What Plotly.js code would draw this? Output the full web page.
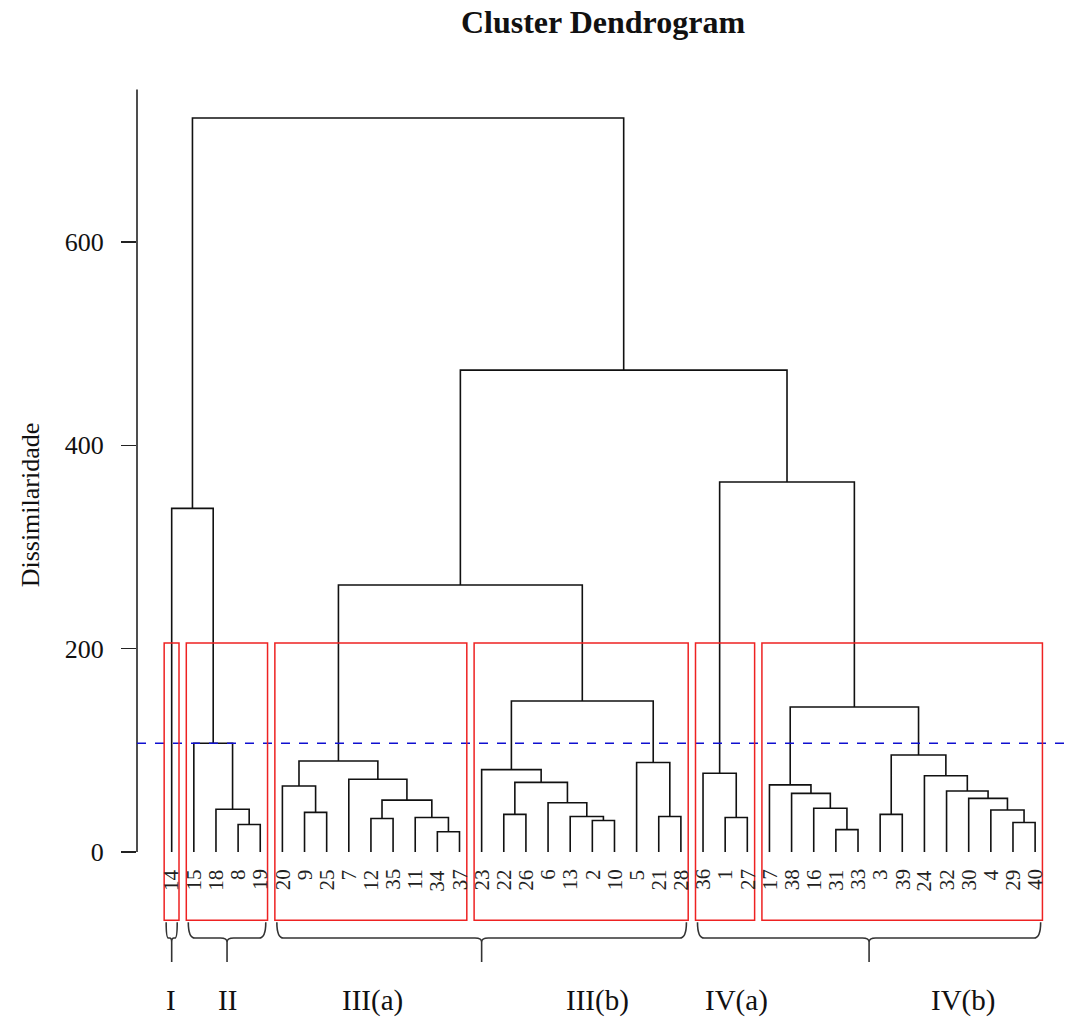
<!DOCTYPE html>
<html>
<head>
<meta charset="utf-8">
<script src="https://cdn.plot.ly/plotly-3.0.1.min.js"></script>
<style>html,body{margin:0;padding:0;background:#fff;}#chart{width:1067px;height:1021px;}</style>
</head>
<body>
<div id="chart"></div>
<script>
// Leaf order as drawn (left to right)
const leafOrder = [14,15,18,8,19,20,9,25,7,12,35,11,34,37,23,22,26,6,13,2,10,5,21,28,36,1,27,17,38,16,31,33,3,39,24,32,30,4,29,40];

// Merge table (R hclust style: negative = leaf label, positive = earlier merge step)
const mergeA = [-8,-18,-15,-14,-9,-20,-34,-11,-12, 9,-7, 6,-22,-2,-13,-6,13,-23,-21,-5,18,12,-1,-36,-31,-16,-38,-17,-3,-29,-4,-30,-32,-24,29,28,24,22, 4];
const mergeB = [-19, 1, 2, 3,-25, 5,-37, 7,-35, 8,10,11,-26,-10,14,15,16,17,-28,19,20,21,-27,23,-33,25,26,27,-39,-40,30,31,32,33,34,35,36,37,38];
const mergeH = [27,42,107,338,39,65,20,34,33,51,71.5,89.5,37,31,35,48.5,68.5,81,35,88,148.5,262.6,34,77.5,22,43,57.7,66,37,29,41.3,52.8,60,75,95.4,142.6,364,474,722];

// Cut line height
const cutHeight = 107;
// Number of clusters boxed
const kClusters = 6;

// Boxed clusters (leaf index ranges in drawing order)
const boxFirst = [1, 2, 6, 15, 25, 28];
const boxLast  = [1, 5, 14, 24, 27, 40];

// Braces (leaf index ranges)
const braceFirst = [1, 2, 6, 25];
const braceLast  = [1, 5, 24, 40];

// Group labels
const groupNames = ['I','II','III(a)','III(b)','IV(a)','IV(b)'];
const groupLabelPos = [0.97, 3.5, 10.09, 20.25, 26.53, 36.72];

const yTicks = [0, 200, 400, 600];

// ---------- build geometry through axes ----------
const pos = {};
leafOrder.forEach((l, i) => pos[l] = i + 1);
const nodeX = [], nodeH = [];
function cx(c){ return c < 0 ? pos[-c] : nodeX[c-1]; }
function ch(c){ return c < 0 ? 0 : nodeH[c-1]; }
const lx = [], ly = [];
for (let j = 0; j < mergeH.length; j++) {
  const a = mergeA[j], b = mergeB[j], h = mergeH[j];
  let xa = cx(a), xb = cx(b);
  lx.push(xa, xa, xb, xb, null);
  ly.push(ch(a), h, h, ch(b), null);
  nodeX.push((xa + xb) / 2);
  nodeH.push(h);
}

const sortedH = mergeH.slice().sort((p, q) => q - p);
const boxTop = (sortedH[kClusters - 2] + sortedH[kClusters - 1]) / 2;
const boxBottom = -67;

const serif = 'Liberation Serif, Times New Roman, serif';
const shapes = [];
// y axis line
shapes.push({type:'line', xref:'paper', yref:'y', x0:0, x1:0, y0:0, y1:750, line:{color:'#222', width:1.6}});
// cut line
shapes.push({type:'line', xref:'paper', yref:'y', x0:0, x1:1, y0:cutHeight, y1:cutHeight, line:{color:'#1010d0', width:1.5, dash:'dash'}});
// red boxes
for (let i = 0; i < boxFirst.length; i++) {
  shapes.push({type:'rect', xref:'x', yref:'y', x0:boxFirst[i]-0.34, x1:boxLast[i]+0.33, y0:boxBottom, y1:boxTop,
    line:{color:'#ee2222', width:1.5}, fillcolor:'rgba(0,0,0,0)'});
}
// braces
const yT = -69, yB = -84.6, yS = -108.2;
for (let i = 0; i < braceFirst.length; i++) {
  const xl = braceFirst[i] - 0.25, xr = braceLast[i] + 0.25, xc = (xl + xr) / 2;
  const r = Math.min(0.3, (xr - xl) / 5);
  const d = `M ${xl},${yT} Q ${xl},${yB} ${xl+r},${yB} L ${xc-r},${yB} Q ${xc},${yB} ${xc},${yB-4} L ${xc},${yS} M ${xc},${yB-4} Q ${xc},${yB} ${xc+r},${yB} L ${xr-r},${yB} Q ${xr},${yB} ${xr},${yT}`;
  shapes.push({type:'path', xref:'x', yref:'y', path:d, line:{color:'#333', width:1.6}});
}

const annotations = [];
leafOrder.forEach((l, i) => {
  annotations.push({x:i+1, y:-15, xref:'x', yref:'y', text:String(l), showarrow:false, textangle:-90,
    xanchor:'center', yanchor:'top', font:{family:serif, size:21, color:'#222'}});
});
groupNames.forEach((g, i) => {
  annotations.push({x:groupLabelPos[i], y:-145.6, xref:'x', yref:'y', text:g, showarrow:false,
    xanchor:'center', yanchor:'middle', font:{family:serif, size:29, color:'#111'}});
});
annotations.push({x:-0.115, y:341, xref:'paper', yref:'y', text:'Dissimilaridade', showarrow:false, textangle:-90,
  xanchor:'center', yanchor:'middle', font:{family:serif, size:26, color:'#111'}});

const trace = {x:lx, y:ly, mode:'lines', type:'scatter', line:{color:'#111', width:1.6}, hoverinfo:'skip', showlegend:false};

const layout = {
  width:1067, height:1021,
  margin:{l:137, r:0, t:0, b:0, pad:0},
  paper_bgcolor:'#fff', plot_bgcolor:'#fff',
  title:{text:'<b>Cluster Dendrogram</b>', x:603/1067, xref:'container', xanchor:'center', y:1-22/1021, yref:'container', yanchor:'middle',
    font:{family:serif, size:32, color:'#111'}},
  xaxis:{range:[-0.567, 41.44], showgrid:false, zeroline:false, showline:false, showticklabels:false, ticks:'', fixedrange:true},
  yaxis:{range:[-166.2, 838.0], tickvals:yTicks, ticktext:yTicks.map(String), ticks:'outside', ticklen:15, tickwidth:1.6, tickcolor:'#222',
    showgrid:false, zeroline:false, showline:false, ticklabelstandoff:12, tickfont:{family:serif, size:26, color:'#111'}, fixedrange:true},
  shapes:shapes, annotations:annotations
};
Plotly.newPlot('chart', [trace], layout, {displayModeBar:false, staticPlot:true});
</script>
</body>
</html>
